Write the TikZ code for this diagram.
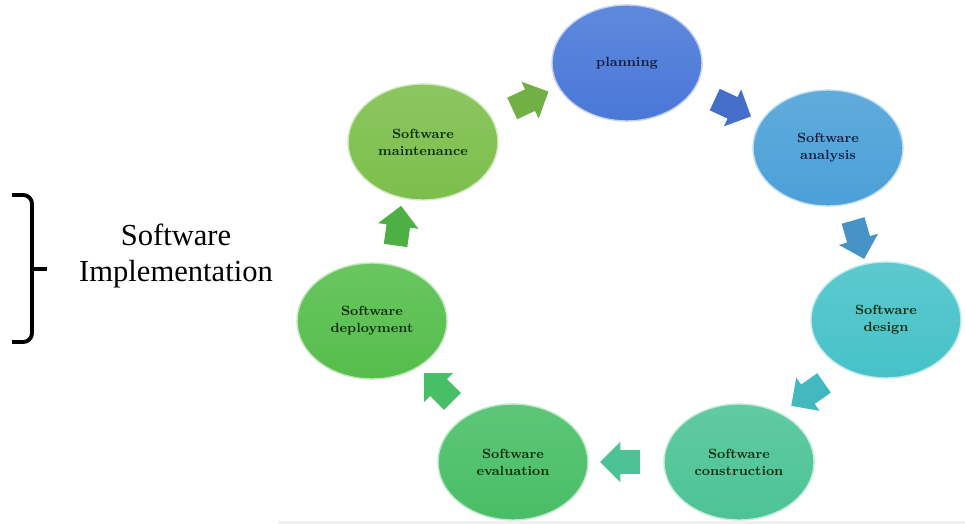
\documentclass[tikz,border=0pt]{standalone}
\usepackage{fontspec}
\newfontfamily\labelfont{Liberation Serif}
\usetikzlibrary{
  shapes.geometric,
  shapes.arrows,
  calc,
  positioning
}
\definecolor{planblue}{HTML}{4A78D8}
\definecolor{analysisblue}{HTML}{4BA0D8}
\definecolor{designteal}{HTML}{46C2C8}
\definecolor{constructgreen}{HTML}{4CC396}
\definecolor{evalgreen}{HTML}{48BE66}
\definecolor{deploygreen}{HTML}{55BE4B}
\definecolor{maintgreen}{HTML}{7CBE4B}
\definecolor{navytext}{HTML}{0E1F40}
\definecolor{greentext}{HTML}{0C2E0C}

\begin{document}
\begin{tikzpicture}[
    x=0.02cm, y=-0.02cm,
    phase/.style={ellipse, minimum width=3cm, minimum height=2.32cm,
                  inner sep=0pt, align=center, text=greentext,
                  font=\bfseries\fontsize{7.6}{9.6}\selectfont,
                  top color=#1!88!white, bottom color=#1,
                  draw=#1!35!white, line width=0.8pt},
    blockarrow/.style={single arrow, minimum height=0.8cm,
                       text height=0.23cm, text depth=0.23cm, text width=0pt,
                       single arrow head extend=0.17cm, inner sep=0pt,
                       fill=#1, draw=none},
]
\useasboundingbox (0,0) rectangle (965,524);

% Life cycle phases
\node[phase=planblue, text=navytext]     (plan)      at (627,63)  {planning};
\node[phase=analysisblue, text=navytext] (analysis)  at (828,148) {Software\\analysis};
\node[phase=designteal]                  (design)    at (886,320) {Software\\design};
\node[phase=constructgreen]              (construct) at (739,462) {Software\\construction};
\node[phase=evalgreen]                   (evaluate)  at (513,462) {Software\\evaluation};
\node[phase=deploygreen]                 (deploy)    at (372,321) {Software\\deployment};
\node[phase=maintgreen]                  (maintain)  at (423,142) {Software\\maintenance};

% Block arrows between phases
\node[blockarrow=maintgreen!92!black, rotate=25]   (a1) at ($(maintain)!0.5!(plan)$) {};
\node[blockarrow=planblue!92!black, rotate=-25]    (a2) at ($(plan)!0.5!(analysis)$) {};
\node[blockarrow=analysisblue!92!black, rotate=-74] (a3) at ($(analysis)!0.5!(design)$) {};
\node[blockarrow=designteal!95!black, rotate=-145] (a4) at ($(design)!0.5!(construct)$) {};
\node[blockarrow=constructgreen, rotate=180]       (a5) at ($(construct)!0.5!(evaluate)$) {};
\node[blockarrow=evalgreen, rotate=135]            (a6) at ($(evaluate)!0.5!(deploy)$) {};
\node[blockarrow=deploygreen!92!black, rotate=82]  (a7) at ($(deploy)!0.5!(maintain)$) {};

% Implementation brace and label
\draw[line width=2.2pt, rounded corners=5pt] (12,195) -- (32,195) -- (32,342) -- (12,342);
\draw[line width=2.2pt] (32,269) -- (47,269);
\node[font=\labelfont\fontsize{17.4}{20}\selectfont, align=center] (impl) at (176,256)
  {Software\\Implementation};

% Bottom rule
\fill[gray!12] (278,521) rectangle (965,524);

\end{tikzpicture}
\end{document}
